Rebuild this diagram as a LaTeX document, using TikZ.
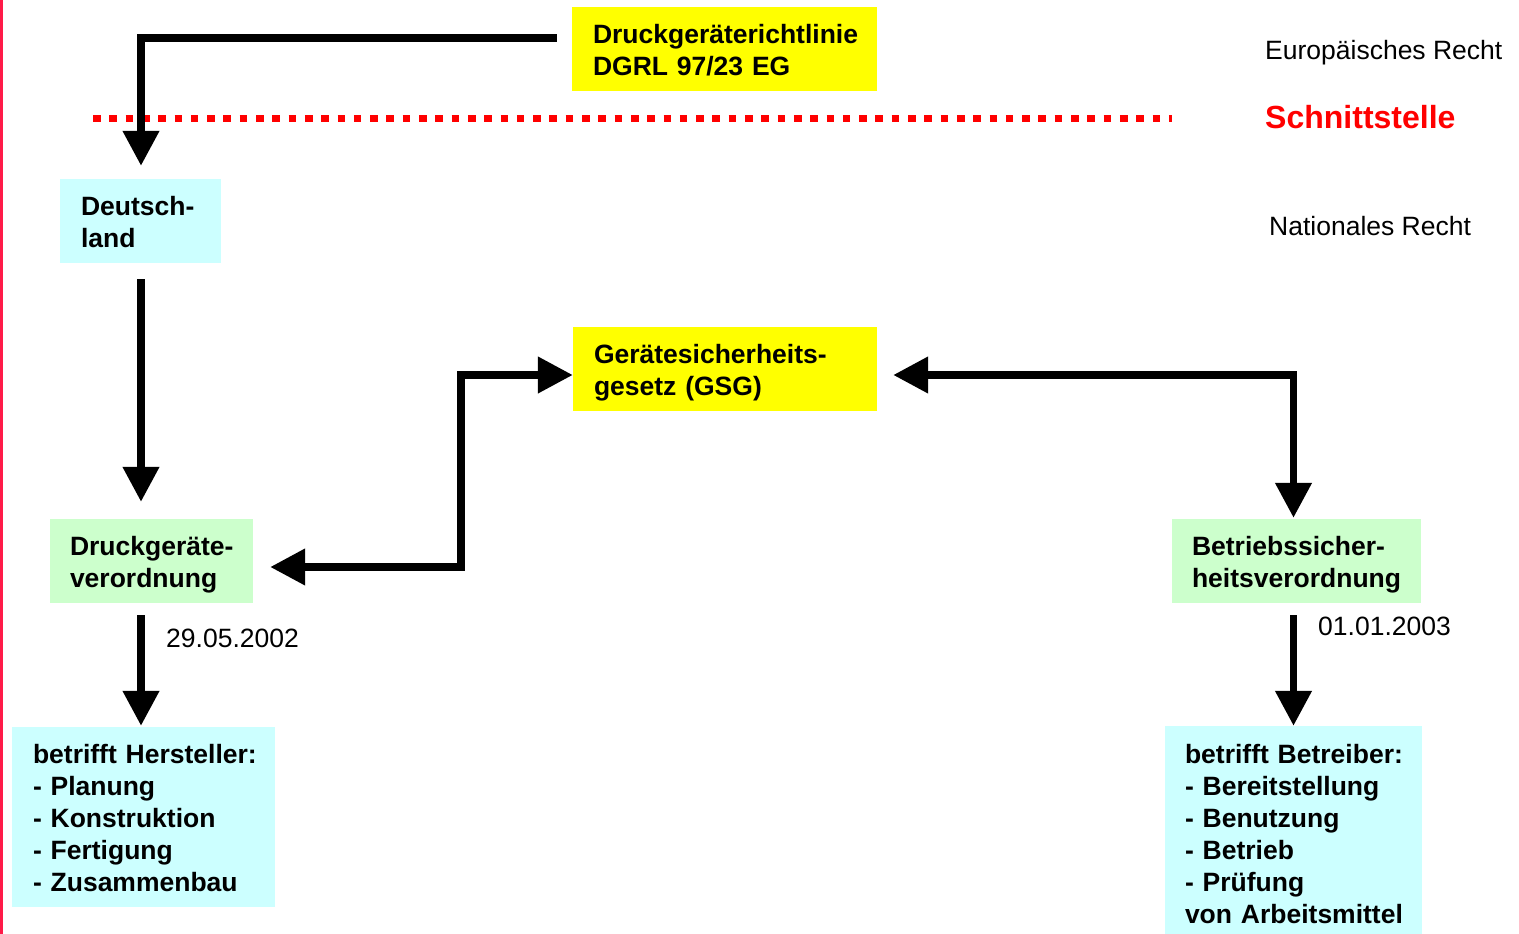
\documentclass[tikz,border=0pt]{standalone}
\usepackage{fontspec}
\setmainfont{Liberation Sans}
\usetikzlibrary{arrows.meta}
\definecolor{boxcyan}{HTML}{CCFFFF}
\definecolor{boxgreen}{HTML}{CCFFCC}
\definecolor{boxyellow}{HTML}{FFFF00}
\definecolor{edgered}{HTML}{FF1A48}
\tikzset{
  box/.style={rectangle, inner xsep=21pt, inner ysep=0pt, align=left,
    font=\fontsize{26.5}{32}\selectfont\bfseries,
    execute at begin node={\rule{0pt}{26.5pt}},
    execute at end node={\rule[-5.5pt]{0pt}{5.5pt}}},
  conn/.style={line width=7.5pt, black, line join=miter},
  tip/.style={-{Triangle[width=35pt,length=35pt]}},
  dtip/.style={{Triangle[width=35pt,length=35pt]}-{Triangle[width=35pt,length=35pt]}},
  lab/.style={inner sep=0pt, anchor=base west, font=\fontsize{26.5}{32}\selectfont},
}
\begin{document}
\begin{tikzpicture}[x=1pt,y=-1pt]
\useasboundingbox (0,0) rectangle (1519,934);
\fill[white] (0,0) rectangle (1519,934);
% left red edge
\draw[edgered, line width=2.5pt] (1.25,0) -- (1.25,934);

% boxes
\node[box, fill=boxyellow, minimum width=305pt, minimum height=84pt, text width=263pt] (dgrl) at (724.5,49)
  {\mbox{Druckgeräterichtlinie}\\\mbox{DGRL 97/23 EG}};
\node[box, fill=boxcyan, minimum width=161pt, minimum height=84pt, text width=119pt] (deut) at (140.5,221)
  {\mbox{Deutsch-}\\\mbox{land}};
\node[box, fill=boxyellow, minimum width=304pt, minimum height=84pt, text width=262pt] (gsg) at (725,369)
  {\mbox{Gerätesicherheits-}\\\mbox{gesetz (GSG)}};
\node[box, fill=boxgreen, minimum width=203pt, minimum height=84pt, text width=163pt, inner xsep=20pt] (dgv) at (151.5,561)
  {\mbox{Druckgeräte-}\\\mbox{verordnung}};
\node[box, fill=boxgreen, minimum width=249pt, minimum height=84pt, text width=209pt, inner xsep=20pt] (bsv) at (1296.5,561)
  {\mbox{Betriebssicher-}\\\mbox{heitsverordnung}};
\node[box, fill=boxcyan, minimum width=263pt, minimum height=180pt, text width=221pt] (herst) at (143.5,817)
  {\mbox{betrifft Hersteller:}\\\mbox{- Planung}\\\mbox{- Konstruktion}\\\mbox{- Fertigung}\\\mbox{- Zusammenbau}};
\node[box, fill=boxcyan, minimum width=257pt, minimum height=214pt, text width=217pt, inner xsep=20pt] (betr) at (1293.5,833)
  {\mbox{betrifft Betreiber:}\\\mbox{- Bereitstellung}\\\mbox{- Benutzung}\\\mbox{- Betrieb}\\\mbox{- Prüfung}\\\mbox{von Arbeitsmittel}};

% interface line
\draw[red, line width=7.7pt, dash pattern=on 7.6pt off 8.7pt] (93,118.5) -- (1172,118.5);

% labels
\node[lab] (eu) at (1265,59.5) {Europäisches Recht};
\node[lab, red, font=\fontsize{32}{38}\selectfont\bfseries] (sst) at (1265,128.5) {Schnittstelle};
\node[lab] (nat) at (1269,235.5) {Nationales Recht};
\node[lab] (date1) at (166,647.5) {29.05.2002};
\node[lab] (date2) at (1318,635.5) {01.01.2003};

% connectors
\draw[conn, tip] ([xshift=-15pt, yshift=11pt]dgrl.west) -| ([xshift=0.5pt, yshift=13pt]deut.north);
\draw[conn, tip] ([xshift=0.5pt, yshift=-16pt]deut.south) -- ([xshift=0.5pt, yshift=17pt]deut.south |- dgv.north);
\draw[conn, tip] ([xshift=0.5pt, yshift=-12pt]deut.south |- dgv.south) -- ([xshift=0.5pt, yshift=1pt]deut.south |- herst.north);
\draw[conn, tip] ([yshift=-12pt]betr.north |- bsv.south) -- ([yshift=1pt]betr.north |- herst.north);
\draw[conn, dtip] ([xshift=17pt, yshift=-6pt]dgv.east) -- ++(191,0) |- ([yshift=-6pt]gsg.west);
\draw[conn, dtip] ([xshift=16pt, yshift=-6pt]gsg.east) -| ([yshift=1pt]betr.north |- bsv.north);
\end{tikzpicture}
\end{document}
